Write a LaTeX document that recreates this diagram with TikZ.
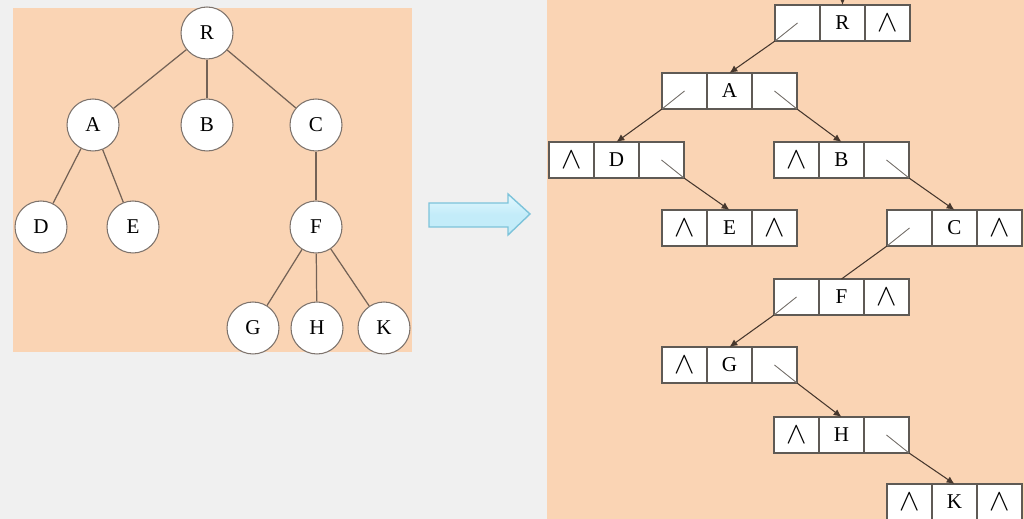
\documentclass[tikz,border=0pt]{standalone}
\usepackage{fontspec}
\setmainfont{Liberation Serif}
\usetikzlibrary{arrows.meta}
\definecolor{canvas}{RGB}{240,240,240}
\definecolor{peach}{RGB}{250,212,180}
\definecolor{edgecol}{RGB}{115,98,86}
\definecolor{circline}{RGB}{125,115,108}
\definecolor{boxline}{RGB}{95,90,85}
\definecolor{incell}{RGB}{120,115,110}
\definecolor{ptrcol}{RGB}{70,55,45}
\definecolor{arrfill}{RGB}{195,236,249}
\definecolor{arrtop}{RGB}{228,248,254}
\definecolor{arrline}{RGB}{125,195,218}
\newcommand\lab{\fontsize{12}{14}\selectfont}
\tikzset{
  tnode/.style={circle, draw=circline, fill=white, line width=0.6pt, minimum size=1.04cm, inner sep=0pt, font=\lab},
  tedge/.style={draw=edgecol, line width=0.7pt},
  cell/.style={rectangle, draw=boxline, fill=white, line width=0.7pt, minimum width=0.9cm, minimum height=0.72cm, inner sep=0pt, outer sep=0pt, anchor=north west, font=\lab},
  inptr/.style={draw=incell, line width=0.5pt},
  ptr/.style={draw=ptrcol, line width=0.6pt},
  ptrarrow/.style={ptr, -{Latex[length=4.5pt,width=4pt]}}
}
\newcommand\tripnode[6]{%
  \node[cell] (#1l) at (#2,#3) {#4};
  \node[cell] (#1d) at (#1l.north east) {#5};
  \node[cell] (#1r) at (#1d.north east) {#6};}
\newcommand\nil{\scalebox{1.45}{$\wedge$}}
\begin{document}
\begin{tikzpicture}[x=0.02cm, y=-0.02cm]
\useasboundingbox (0,0) rectangle (1024,519);
\fill[canvas] (0,0) rectangle (1024,519);
% panels
\fill[peach] (13,8) rectangle (412,352);
\fill[peach] (547,0) rectangle (1024,519);

% ---------- left tree ----------
\node[tnode] (R) at (207,33) {R};
\node[tnode] (A) at (93,125) {A};
\node[tnode] (B) at (207,125) {B};
\node[tnode] (C) at (316,125) {C};
\node[tnode] (D) at (41,227) {D};
\node[tnode] (E) at (133,227) {E};
\node[tnode] (F) at (316,227) {F};
\node[tnode] (G) at (253,328) {G};
\node[tnode] (H) at (317,328) {H};
\node[tnode] (K) at (384,328) {K};
\draw[tedge] (R) -- (A);
\draw[tedge] (R) -- (B);
\draw[tedge] (R) -- (C);
\draw[tedge] (A) -- (D);
\draw[tedge] (A) -- (E);
\draw[tedge] (C) -- (F);
\draw[tedge] (F) -- (G);
\draw[tedge] (F) -- (H);
\draw[tedge] (F) -- (K);

% ---------- block arrow ----------
\draw[arrline, line width=0.8pt, top color=arrtop, bottom color=arrfill, middle color=arrfill]
  (429,203) -- (508,203) -- (508,194) -- (530,214) -- (508,235) -- (508,227) -- (429,227) -- cycle;

% ---------- right: binary linked representation ----------
\tripnode{r}{775}{5}{}{R}{\nil}
\tripnode{a}{662}{73}{}{A}{}
\tripnode{d}{549}{142}{\nil}{D}{}
\tripnode{b}{774}{142}{\nil}{B}{}
\tripnode{e}{662}{210}{\nil}{E}{\nil}
\tripnode{c}{887}{210}{}{C}{\nil}
\tripnode{f}{774}{279}{}{F}{\nil}
\tripnode{g}{662}{347}{\nil}{G}{}
\tripnode{h}{774}{417}{\nil}{H}{}
\tripnode{k}{887}{484}{\nil}{K}{\nil}

\coordinate (top) at (rd.north |- 0,-12);
\draw[ptrarrow] (top) -- (rd.north);

% left pointers
\draw[inptr] (rl.center) -- (rl.south west);
\draw[ptrarrow] (rl.south west) -- (ad.north);
\draw[inptr] (al.center) -- (al.south west);
\draw[ptrarrow] (al.south west) -- (dd.north);
\draw[inptr] (cl.center) -- (cl.south west);
\draw[ptr] (cl.south west) -- (fd.north);
\draw[inptr] (fl.center) -- (fl.south west);
\draw[ptrarrow] (fl.south west) -- (gd.north);

% right pointers
\draw[inptr] (ar.center) -- (ar.south east);
\draw[ptrarrow] (ar.south east) -- (bd.north);
\draw[inptr] (dr.center) -- (dr.south east);
\draw[ptrarrow] (dr.south east) -- (ed.north);
\draw[inptr] (br.center) -- (br.south east);
\draw[ptrarrow] (br.south east) -- (cd.north);
\draw[inptr] (gr.center) -- (gr.south east);
\draw[ptrarrow] (gr.south east) -- (hd.north);
\draw[inptr] (hr.center) -- (hr.south east);
\draw[ptrarrow] (hr.south east) -- (kd.north);
\end{tikzpicture}
\end{document}
